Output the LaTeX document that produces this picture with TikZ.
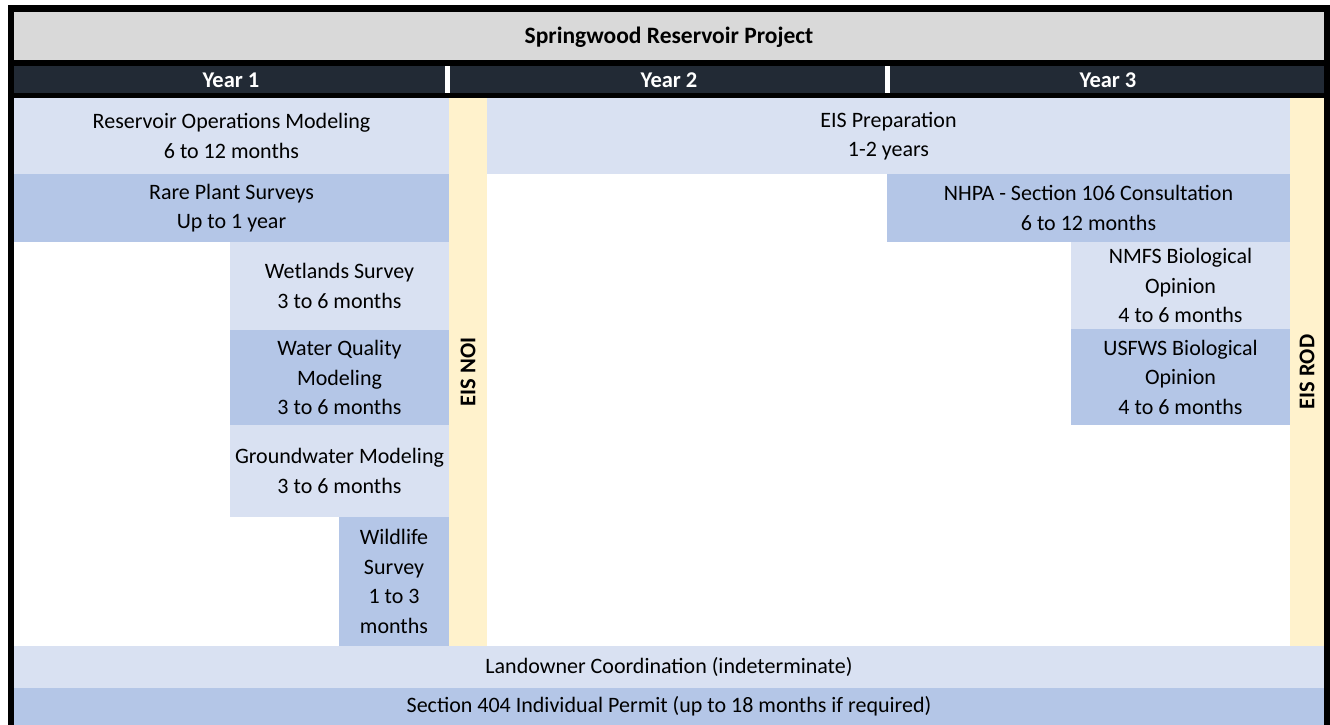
\documentclass[tikz,border=0pt]{standalone}
\usepackage{fontspec}
\setmainfont{Carlito}
\definecolor{lightrow}{HTML}{D9E1F2}
\definecolor{darkrow}{HTML}{B4C6E7}
\definecolor{milestone}{HTML}{FFF2CC}
\definecolor{navy}{HTML}{222A35}
\definecolor{titlegray}{HTML}{D9D9D9}
\tikzset{
  task/.style={inner sep=0pt, outer sep=0pt, anchor=north west, align=center,
    font=\fontsize{22}{29.5}\selectfont, text=black},
  lighttask/.style={task, fill=lightrow},
  darktask/.style={task, fill=darkrow},
  mstone/.style={inner sep=0pt, outer sep=0pt, anchor=north west, fill=milestone},
  mslabel/.style={rotate=90, font=\fontsize{22.5}{26}\selectfont\bfseries},
  yearlabel/.style={text=white, font=\fontsize{22.5}{26}\selectfont\bfseries},
  yearsep/.style={fill=white, draw=none},
}
\begin{document}
\begin{tikzpicture}[x=1pt,y=-1pt]
\useasboundingbox (0,0) rectangle (1330,725);
% outer frame
\fill[black] (8,5) rectangle (1330,725);
\fill[white] (14,98) rectangle (1324,725);
% title bar
\fill[titlegray] (14,12) rectangle (1324,60);
\node[font=\fontsize{23.5}{26}\selectfont\bfseries] (title) at (669,37) {Springwood Reservoir Project};
% year bar
\fill[navy] (14,66) rectangle (1324,93);
\fill[yearsep] (445,66) rectangle (450,93);
\fill[yearsep] (885,66) rectangle (890,93);
\node[yearlabel] (y1) at (231,80) {Year 1};
\node[yearlabel] (y2) at (669,80) {Year 2};
\node[yearlabel] (y3) at (1108,80) {Year 3};
% year 1 tasks
\node[lighttask, minimum width=435, minimum height=76] (resops) at (14,98)
  {Reservoir Operations Modeling\\6 to 12 months};
\node[darktask, minimum width=435, minimum height=68] (rare) at (14,174)
  {Rare Plant Surveys\\Up to 1 year};
\node[lighttask, minimum width=219, minimum height=88] (wet) at (230,242)
  {Wetlands Survey\\3 to 6 months};
\node[darktask, minimum width=219, minimum height=95] (wq) at (230,330)
  {Water Quality\\Modeling\\3 to 6 months};
\node[lighttask, minimum width=219, minimum height=92] (gw) at (230,425)
  {Groundwater Modeling\\3 to 6 months};
\node[darktask, minimum width=110, minimum height=129] (wild) at (339,517)
  {Wildlife\\Survey\\1 to 3\\months};
% milestones
\node[mstone, minimum width=38, minimum height=548] (noi) at (449,98) {};
\node[mslabel] (noilbl) at (noi.center) {EIS NOI};
\node[mstone, minimum width=34, minimum height=548] (rod) at (1290,98) {};
\node[mslabel] (rodlbl) at (rod.center) {EIS ROD};
% years 2 and 3 tasks
\node[lighttask, minimum width=803, minimum height=76] (eis) at (487,98)
  {EIS Preparation\\1-2 years};
\node[darktask, minimum width=403, minimum height=68] (nhpa) at (887,174)
  {NHPA - Section 106 Consultation\\6 to 12 months};
\node[lighttask, minimum width=219, minimum height=87] (nmfs) at (1071,242)
  {NMFS Biological\\Opinion\\4 to 6 months};
\node[darktask, minimum width=219, minimum height=96] (usfws) at (1071,329)
  {USFWS Biological\\Opinion\\4 to 6 months};
% full-width rows
\node[lighttask, minimum width=1310, minimum height=42] (land) at (14,646)
  {Landowner Coordination (indeterminate)};
\node[darktask, minimum width=1310, minimum height=37] (sec404) at (14,688)
  {Section 404 Individual Permit (up to 18 months if required)};
\end{tikzpicture}
\end{document}
